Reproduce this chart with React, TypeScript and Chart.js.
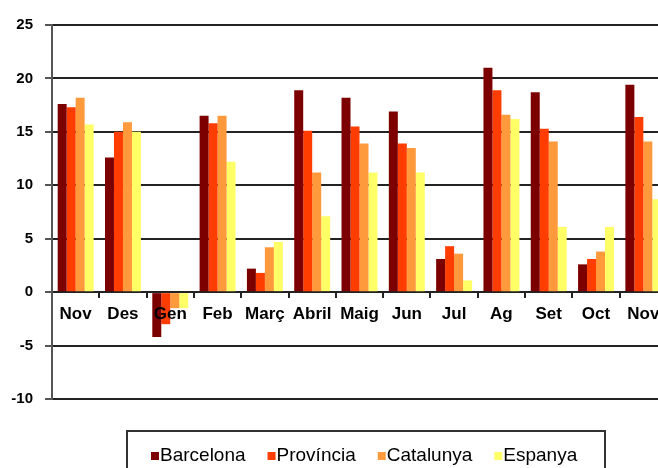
import React, { useEffect, useRef } from "react";
import { Chart, registerables } from "chart.js";

Chart.register(...registerables);

const categories = ["Nov", "Des", "Gen", "Feb", "Març", "Abril", "Maig", "Jun", "Jul", "Ag", "Set", "Oct", "Nov"];
const barcelona = [17.6, 12.6, -4.2, 16.5, 2.2, 18.9, 18.2, 16.9, 3.1, 21.0, 18.7, 2.6, 19.4];
const provincia = [17.3, 15.0, -3.0, 15.8, 1.8, 15.1, 15.5, 13.9, 4.3, 18.9, 15.3, 3.1, 16.4];
const catalunya = [18.2, 15.9, -1.5, 16.5, 4.2, 11.2, 13.9, 13.5, 3.6, 16.6, 14.1, 3.8, 14.1];
const espanya = [15.7, 15.0, -1.5, 12.2, 4.7, 7.1, 11.2, 11.2, 1.1, 16.2, 6.1, 6.1, 8.7];
const seriesNames = ["Barcelona", "Província", "Catalunya", "Espanya"];
const seriesColors = ["#7d0000", "#ff3d00", "#ff9a3c", "#ffff66"];
const yTicks = { min: -10, max: 25, step: 5 };

const boxLegend = {
  id: "boxLegend",
  afterDraw(chart: any) {
    const ctx = chart.ctx;
    ctx.save();
    ctx.strokeStyle = "#333";
    ctx.lineWidth = 2;
    ctx.strokeRect(127, 431, 478, 60);
    ctx.font = "19px 'Liberation Sans', Arial, sans-serif";
    ctx.textBaseline = "middle";
    let x = 151;
    const y = 456;
    chart.data.datasets.forEach((ds: any) => {
      ctx.fillStyle = ds.backgroundColor;
      ctx.fillRect(x, y - 4, 8, 8);
      ctx.fillStyle = "#000";
      ctx.fillText(ds.label, x + 9, y);
      x += 9 + ctx.measureText(ds.label).width + 22;
    });
    ctx.restore();
  },
};

export default function App() {
  const ref = useRef<HTMLCanvasElement>(null);
  useEffect(() => {
    if (!ref.current) return;
    const series = [barcelona, provincia, catalunya, espanya];
    const chart = new Chart(ref.current, {
      type: "bar",
      data: {
        labels: categories,
        datasets: series.map((d, i) => ({
          label: seriesNames[i],
          data: d,
          backgroundColor: seriesColors[i],
          borderWidth: 0,
          categoryPercentage: 0.76,
          barPercentage: 1,
        })),
      },
      options: {
        responsive: false,
        animation: false,
        layout: { padding: { top: 25, right: 3, bottom: 69, left: 0 } },
        plugins: { legend: { display: false }, tooltip: { enabled: false } },
        scales: {
          x: {
            position: { y: 0 } as any,
            grid: {
              drawOnChartArea: false,
              drawTicks: true,
              tickLength: 5,
              color: "#222",
              lineWidth: 2,
              offset: true,
            },
            border: { display: true, color: "#222", width: 2 },
            ticks: {
              z: 1,
              color: "#000",
              padding: 7,
              maxRotation: 0,
              autoSkip: false,
              font: { family: "'Liberation Sans', Arial, sans-serif", size: 17, weight: "bold" },
            },
          },
          y: {
            min: yTicks.min,
            max: yTicks.max,
            afterFit: (s: any) => {
              s.width = 52;
            },
            grid: {
              color: "#222",
              lineWidth: 2,
              tickLength: 7,
              tickColor: "#555",
            },
            border: { display: true, color: "#555", width: 2 },
            ticks: {
              stepSize: yTicks.step,
              color: "#000",
              padding: 12,
              font: { family: "'Liberation Sans', Arial, sans-serif", size: 15, weight: "bold" },
            },
          },
        },
      },
      plugins: [boxLegend],
    });
    return () => chart.destroy();
  }, []);
  return (
    <div
      style={{
        position: "fixed",
        left: 0,
        top: 0,
        width: 658,
        height: 468,
        overflow: "hidden",
        background: "#fff",
      }}
    >
      <canvas ref={ref} width={670} height={468} style={{ display: "block" }} />
    </div>
  );
}
